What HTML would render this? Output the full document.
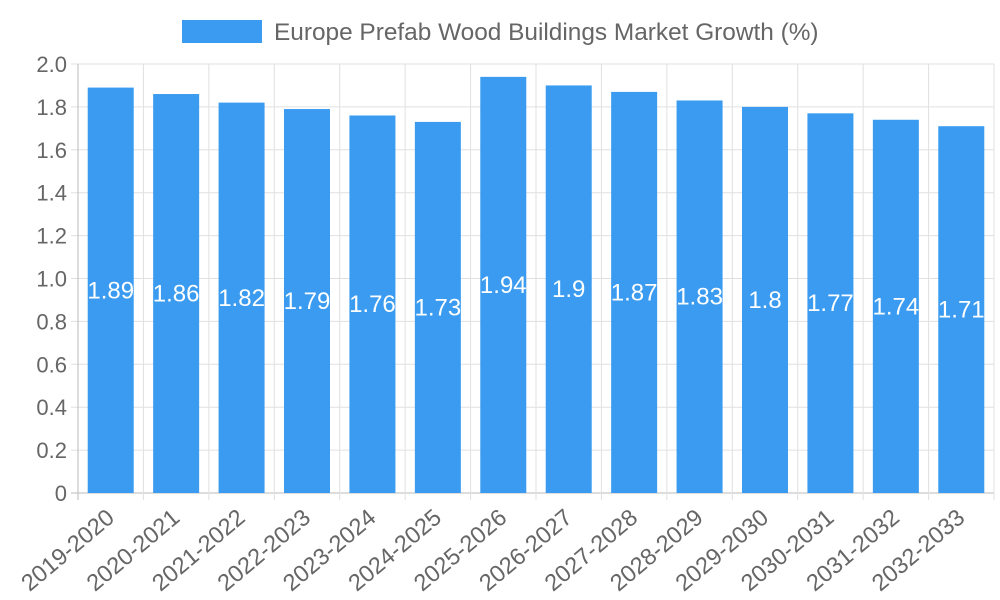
<!DOCTYPE html>
<html><head><meta charset="utf-8"><style>
html,body{margin:0;padding:0;background:#fff;}
svg{display:block;font-family:"Liberation Sans",sans-serif;}
</style></head><body>
<svg id="chart" width="1000" height="600"></svg>
<script>
const categories=["2019-2020","2020-2021","2021-2022","2022-2023","2023-2024","2024-2025","2025-2026","2026-2027","2027-2028","2028-2029","2029-2030","2030-2031","2031-2032","2032-2033"];
const values=[1.89,1.86,1.82,1.79,1.76,1.73,1.94,1.9,1.87,1.83,1.8,1.77,1.74,1.71];
const yTicks=[0,0.2,0.4,0.6,0.8,1.0,1.2,1.4,1.6,1.8,2.0];
const yTickLabels=["0","0.2","0.4","0.6","0.8","1.0","1.2","1.4","1.6","1.8","2.0"];
const seriesName="Europe Prefab Wood Buildings Market Growth (%)";

const NS="http://www.w3.org/2000/svg";
const svg=document.getElementById('chart');
const L=78,R=994,T=64,B=493,yMax=2.0;
const band=(R-L)/categories.length;
const y=v=>B-(v/yMax)*(B-T);
const xc=i=>L+band*(i+0.5);
function mk(tag,attrs,parent){const e=document.createElementNS(NS,tag);for(const k in attrs)e.setAttribute(k,attrs[k]);(parent||svg).appendChild(e);return e;}

const grid=mk('g',{});


yTicks.forEach((t,i)=>{
  const yy=y(t);
  mk('line',{x1:L-7,x2:R,y1:yy,y2:yy,stroke:i===0?'#bbb':'#e0e0e0','stroke-width':1},grid);
  const tx=mk('text',{x:L-11,y:yy+8,'text-anchor':'end','font-size':22,fill:'#666'});
  tx.textContent=yTickLabels[i];
  
  
});
for(let i=0;i<=categories.length;i++){
  const xx=L+band*i;
  mk('line',{x1:xx,x2:xx,y1:T,y2:B+7,stroke:i===0?'#bbb':'#e0e0e0','stroke-width':1},grid);
}
const bw=46;
categories.forEach((c,i)=>{
  const v=values[i];
  const r=mk('rect',{x:xc(i)-bw/2,y:y(v),width:bw,height:B-y(v),fill:'#3a9bf0'});
  
  
  const t=mk('text',{x:xc(i),y:(y(v)+B)/2+8,'text-anchor':'middle','font-size':24,fill:'#fff'});
  t.textContent=String(v);
  
  
  const xl=mk('text',{x:0,y:0,'text-anchor':'end','font-size':23.5,fill:'#666',transform:`translate(${xc(i)+5},${B+27}) rotate(-40)`});
  xl.textContent=c;
  
  
});
const lg=mk('g',{});


mk('rect',{x:182,y:20,width:80,height:23,fill:'#3a9bf0'},lg);
const lt=mk('text',{x:274,y:40,'font-size':24.4,fill:'#666'},lg);
lt.textContent=seriesName;
</script>
</body></html>
